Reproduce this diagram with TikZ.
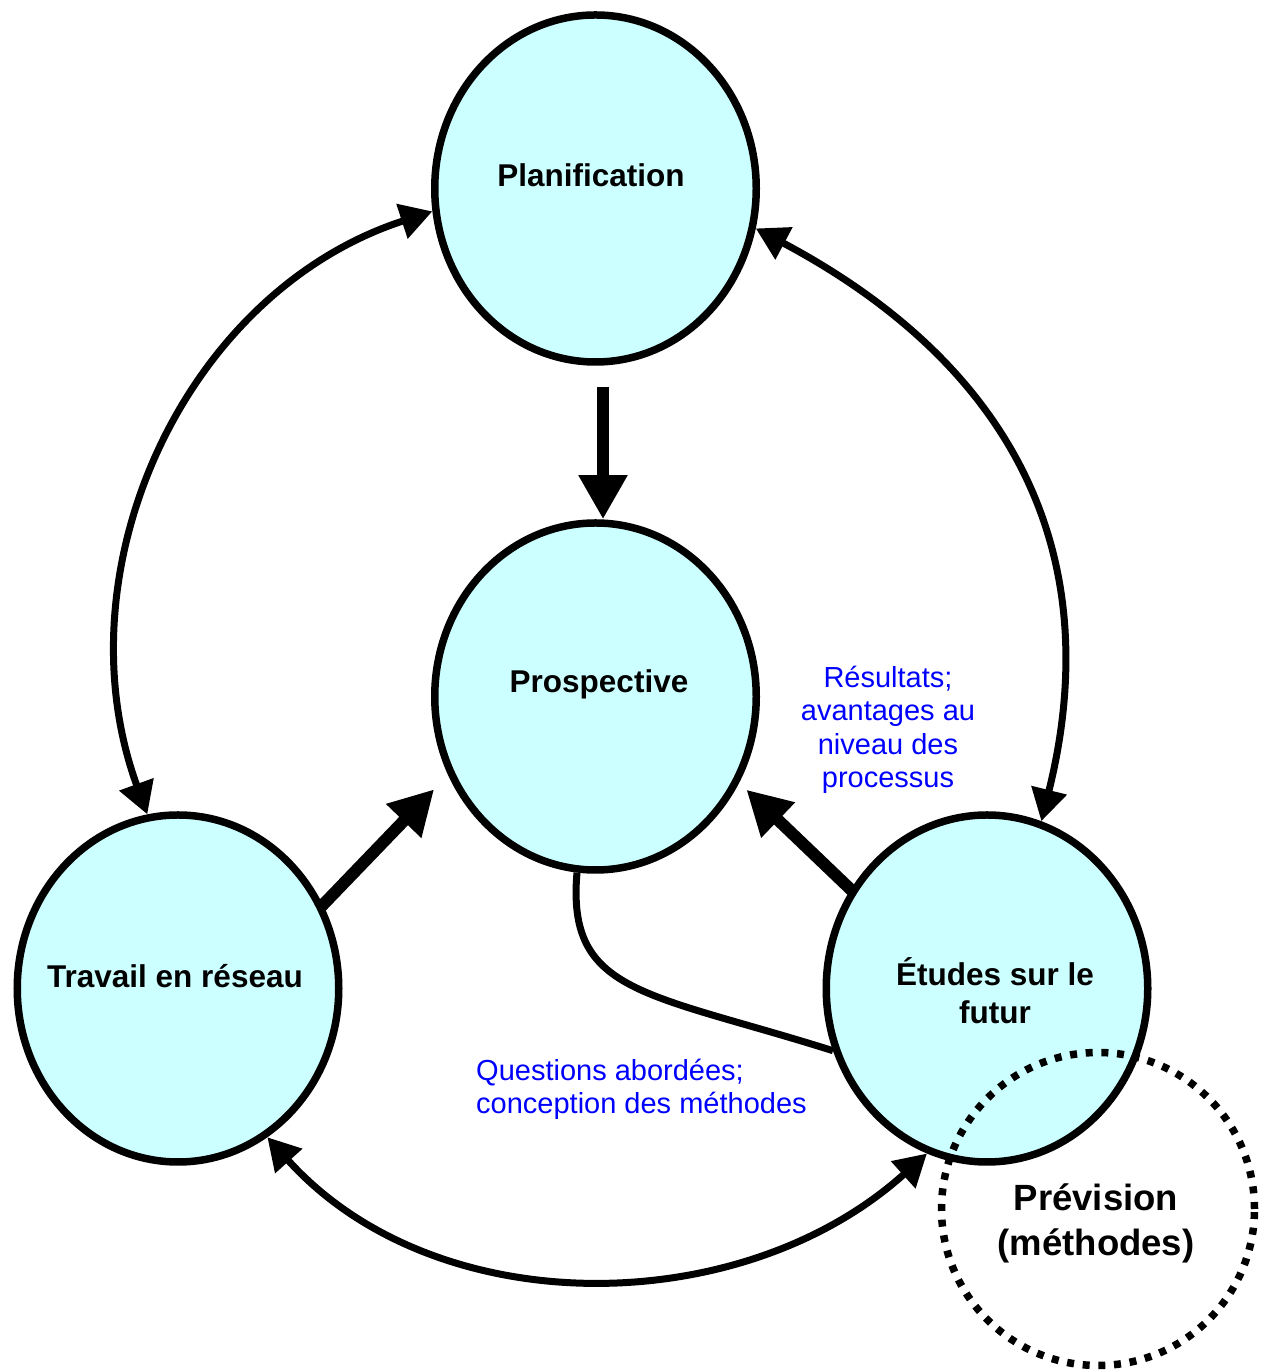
\documentclass[tikz,border=0pt]{standalone}
\usepackage{fontspec}
\setmainfont{Liberation Sans}
\usetikzlibrary{shapes.geometric,arrows.meta}
\definecolor{stagefill}{HTML}{CCFFFF}
\begin{document}
\begin{tikzpicture}[x=1pt,y=1pt,
  stage/.style={ellipse, draw=black, line width=7.5pt, fill=stagefill,
    minimum width=321.5pt, minimum height=347pt, inner sep=0pt},
  title/.style={font=\fontsize{31.5}{38}\selectfont\bfseries, align=center, inner sep=0pt},
  note/.style={font=\fontsize{29}{33.5}\selectfont, text=blue, inner sep=0pt},
  bigtitle/.style={font=\fontsize{36.5}{45}\selectfont\bfseries, align=center, inner sep=0pt},
  link/.style={line width=7pt,
    {Triangle[width=35pt,length=32pt]}-{Triangle[width=35pt,length=32pt]}},
  push/.style={line width=12pt, -{Triangle[width=46pt,length=44pt]}},
  tie/.style={line width=7pt},
  ring/.style={circle, draw=black, line width=7.5pt, dash pattern=on 7pt off 8.7pt,
    minimum size=313pt, inner sep=0pt}
]
% page
\path[fill=white, use as bounding box] (0,0) rectangle (1267,1370);

% the four stages
\node[stage] (plan)   at (595.5,1181.5) {};
\node[stage] (prosp)  at (595.5,673.5) {};
\node[stage] (trav)   at (178,381.5) {};
\node[stage] (etudes) at (987,381.5) {};

\node[title] (plantxt)   at (591,1195) {Planification};
\node[title] (prosptxt)  at (599,686) {Prospective};
\node[title] (travtxt)   at (175,394) {Travail en réseau};
\node[title] (etudestxt) at (995,379) {Études sur le\\futur};

% exchanges between the outer stages
\draw[link] (plan.188) to[out=198,in=110] (trav.100);
\draw[link] (plan.346) to[out=332,in=76,looseness=1.1] (etudes.72);
\draw[link] (trav.301) to[out=312,in=222,looseness=0.97] (etudes.250);

% contributions to foresight
\draw[push, shorten <=21pt] ([xshift=7.5pt]plan.south) -- ([xshift=7.5pt]prosp.north);
\draw[push, shorten <=-6pt, shorten >=20pt] (trav.30) -- (prosp.208);
\draw[push, shorten <=-6pt, shorten >=10pt] (etudes.144) -- (prosp.329);

% feedback from foresight to future studies
\draw[tie] (prosp.264) .. controls +(265:122) and +(162.5:196) .. (etudes.202);

% forecasting as a part of future studies
\node[ring] (prev) at (1098,161) {};
\node[bigtitle] (prevtxt) at (1096,147) {Prévision\\(méthodes)};

% annotations
\node[note, align=center] (gain) at (888,640)
  {Résultats;\\avantages au\\niveau des\\processus};
\node[note, align=left, anchor=west] (quest) at (476,280.5)
  {Questions abordées;\\conception des méthodes};
\end{tikzpicture}
\end{document}
